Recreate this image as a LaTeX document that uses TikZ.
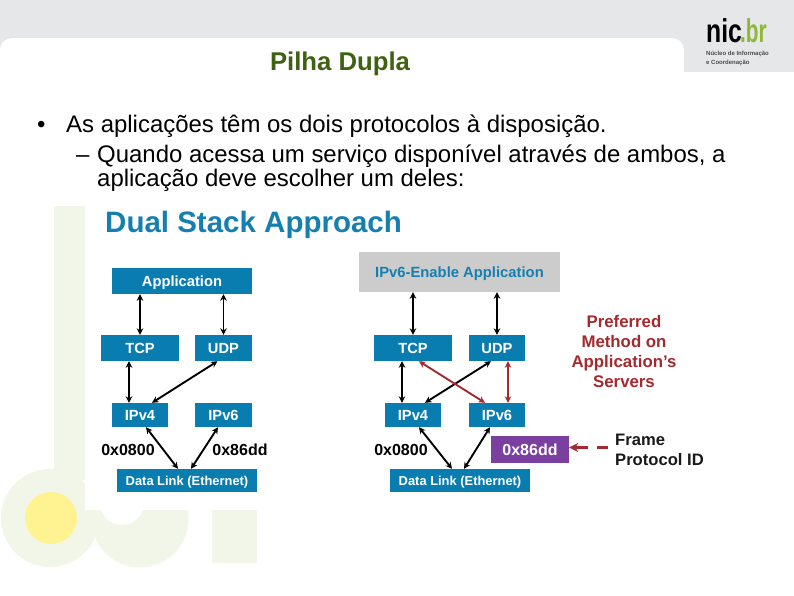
\documentclass[tikz,border=0pt]{standalone}
\usepackage{fontspec}
\setmainfont{Liberation Sans}
\usetikzlibrary{arrows.meta}
\definecolor{pagegray}{HTML}{E6E7E8}
\definecolor{wm}{HTML}{F2F6E8}
\definecolor{wmy}{HTML}{FFF391}
\definecolor{boxblue}{HTML}{0A7DB0}
\definecolor{headblue}{HTML}{1580B0}
\definecolor{titlegreen}{HTML}{3F6212}
\definecolor{prefred}{HTML}{A32A2E}
\definecolor{purplebox}{HTML}{7B3FA0}
\definecolor{logogreen}{HTML}{8DB83A}
\newcommand{\fs}[1]{\fontsize{#1}{#1}\selectfont}
\tikzset{
  x=1pt,y=-1pt,
  stackbox/.style={fill=boxblue,text=white,font=\bfseries\fs{14.7},inner sep=0pt,text height=10.5pt,text depth=0pt,minimum width=#1,minimum height=26pt},
  smallbox/.style={stackbox=#1,minimum height=24pt},
  linkbox/.style={stackbox=140pt,minimum height=23pt,text height=9.3pt,font=\bfseries\fs{12.9}},
  idlabel/.style={font=\bfseries\fs{16},text=black,inner sep=0pt,text height=11.5pt,text depth=0pt},
  biarrow/.style={{Stealth[length=6.5pt,width=6.5pt]}-{Stealth[length=6.5pt,width=6.5pt]},line width=1.9pt,black},
  redarrow/.style={biarrow,draw=prefred},
  bodytext/.style={anchor=base west,inner sep=0pt,font=\fs{23.95},text=black},
}
\begin{document}
\begin{tikzpicture}
\useasboundingbox (0,0) rectangle (794,595);
% page background
\fill[white] (0,0) rectangle (794,595);
\fill[pagegray] (0,0) rectangle (794,71.5);
\fill[white,rounded corners=12pt] (0,110) -- (0,38) -- (684,38) -- (684,110) -- cycle;
\fill[white] (0,72) rectangle (794,120);
% watermark
\fill[wm] (54,206) rectangle (85,480);
\fill[wm] (50,518) circle[radius=49];
\fill[wm] (140,519) circle[radius=48.5];
\fill[wm] (50,510) rectangle (188,530);
\fill[white] (122,503) circle[radius=22];
\fill[white] (85,206) rectangle (262,510);
\fill[wm] (212,510) rectangle (257,563);
\fill[wmy] (51,518) circle[radius=26];
% logo
\node[anchor=base west,inner sep=0pt,font=\bfseries\fs{33}] (nic) at (706,42) {\scalebox{0.75}[1]{nic}};
\node[anchor=base west,inner sep=0pt,font=\bfseries\fs{33},text=logogreen] (br) at (740,42) {\scalebox{0.63}[1]{.br}};
\node[anchor=base west,inner sep=0pt,font=\bfseries\fs{6},text=black!70] (logoa) at (706,55.5) {Núcleo de Informação};
\node[anchor=base west,inner sep=0pt,font=\bfseries\fs{6},text=black!70] (logob) at (706,64) {e Coordenação};
% slide text
\node[anchor=base,inner sep=0pt,font=\bfseries\fs{25.7},text=titlegreen] (title) at (340,70) {Pilha Dupla};
\node[bodytext] (bul) at (37,132) {•};
\node[bodytext] (l1) at (66,132) {As aplicações têm os dois protocolos à disposição.};
\node[bodytext] (dash) at (76,162) {–};
\node[bodytext] (l2) at (97,162) {Quando acessa um serviço disponível através de ambos, a};
\node[bodytext] (l3) at (97,186) {aplicação deve escolher um deles:};
\node[anchor=base west,inner sep=0pt,font=\bfseries\fs{29.5},text=headblue] (head) at (105,232) {Dual Stack Approach};
% left stack
\node[stackbox=140pt] (app) at (182,281) {Application};
\node[stackbox=78pt] (tcp) at (140,348) {TCP};
\node[stackbox=57pt] (udp) at (223.5,348) {UDP};
\node[smallbox=56pt] (ipf) at (140,415) {IPv4};
\node[smallbox=57pt] (ips) at (223.5,415) {IPv6};
\node[linkbox] (dl) at (187,480.5) {Data Link (Ethernet)};
\node[idlabel] (lf) at (128,450) {0x0800};
\node[idlabel] (ls) at (240,450) {0x86dd};
\draw[biarrow] (app.south -| tcp.north) -- (tcp.north);
\draw[biarrow] (app.south -| udp.north) -- (udp.north);
\draw[biarrow] ([xshift=-11pt]tcp.south) -- ([xshift=-11pt]tcp.south |- ipf.north);
\draw[biarrow] ([xshift=-6pt]udp.south) -- ([xshift=12pt]ipf.north);
\draw[biarrow] ([xshift=6pt]ipf.south) -- ([xshift=-9pt]dl.north);
\draw[biarrow] ([xshift=-5.5pt]ips.south) -- ([xshift=4pt]dl.north);
% right stack
\node[fill=black!20,text=headblue,font=\bfseries\fs{14.8},inner sep=0pt,text height=10.5pt,text depth=0pt,minimum width=201pt,minimum height=40pt] (appr) at (459.5,272) {IPv6-Enable Application};
\node[stackbox=78pt] (tcpr) at (413,348) {TCP};
\node[stackbox=56pt] (udpr) at (497,348) {UDP};
\node[smallbox=56pt] (ipfr) at (413,415) {IPv4};
\node[smallbox=56pt] (ipsr) at (497,415) {IPv6};
\node[linkbox] (dlr) at (460,480.5) {Data Link (Ethernet)};
\node[idlabel] (lfr) at (401,450) {0x0800};
\node[idlabel,fill=purplebox,text=white,minimum width=78pt,minimum height=27pt] (lsr) at (530,449.5) {0x86dd};
\draw[biarrow] (appr.south -| tcpr.north) -- (tcpr.north);
\draw[biarrow] (appr.south -| udpr.north) -- (udpr.north);
\draw[biarrow] ([xshift=-11pt]tcpr.south) -- ([xshift=-11pt]tcpr.south |- ipfr.north);
\draw[biarrow] ([xshift=-6pt]udpr.south) -- ([xshift=12pt]ipfr.north);
\draw[redarrow] ([xshift=6pt]tcpr.south) -- ([xshift=-12pt]ipsr.north);
\draw[redarrow] ([xshift=11pt]udpr.south) -- ([xshift=11pt]udpr.south |- ipsr.north);
\draw[biarrow] ([xshift=6pt]ipfr.south) -- ([xshift=-8pt]dlr.north);
\draw[biarrow] ([xshift=-7pt]ipsr.south) -- ([xshift=4pt]dlr.north);
% annotations
\node[align=center,inner sep=0pt,font=\bfseries\fs{16.8},text=prefred] (pref) at (624,351.5) {Preferred\\[3.2pt]Method on\\[3.2pt]Application's\\[3.2pt]Servers};
\node[anchor=base west,inner sep=0pt,font=\bfseries\fs{16.6},text=black!90] (fr) at (615,445) {Frame};
\node[anchor=base west,inner sep=0pt,font=\bfseries\fs{16.6},text=black!90] (pid) at (615,465) {Protocol ID};
\coordinate (dashend) at (608,447.5);
\draw[-{Stealth[length=9pt,width=9pt]},line width=2.5pt,prefred,dash pattern=on 11pt off 9pt on 20pt] (dashend) -- (lsr.east |- dashend);
\end{tikzpicture}
\end{document}
